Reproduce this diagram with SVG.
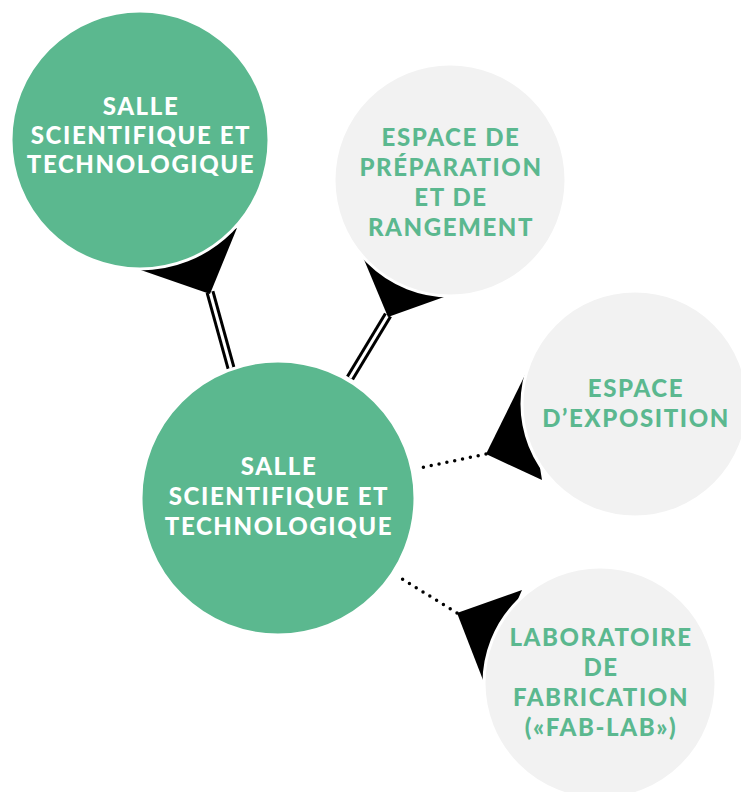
<svg xmlns="http://www.w3.org/2000/svg" width="741" height="792" viewBox="0 0 741 792">
<style>
.green{fill:#5BB88F;stroke:#fff;stroke-width:3}
.gray{fill:#F2F2F2;stroke:#fff;stroke-width:3}
.wedge{fill:#000}
.t{font-family:Lato,"Liberation Sans",sans-serif;font-weight:900;font-size:24px;letter-spacing:1.6px;text-anchor:middle}
.tw{fill:#fff}
.tg{fill:#5BB88F}
.dbl{stroke:#000;stroke-width:9;fill:none}
.dblin{stroke:#fff;stroke-width:3;fill:none}
.dot{stroke:#000;stroke-width:3.5;stroke-linecap:round;stroke-dasharray:0 8;fill:none}
</style>
<g id="connectors">
<line class="dbl" x1="210" y1="292" x2="231" y2="368"/>
<line class="dblin" x1="210" y1="292" x2="231" y2="368"/>
<line class="dbl" x1="388" y1="315" x2="350" y2="378"/>
<line class="dblin" x1="388" y1="315" x2="350" y2="378"/>
<path class="dot" d="M486 454 L420 468"/>
<path class="dot" d="M457 613 L399 577"/>
<polygon class="wedge" points="210,294 135,268 237,228"/>
<polygon class="wedge" points="388,317 355,238 472,287"/>
<polygon class="wedge" points="486,454 525,375 542,480"/>
<polygon class="wedge" points="457,613 522,590 483,680"/>
</g>
<g id="node-salle-top">
<circle class="green" cx="140" cy="140" r="129"/>
<text class="t tw" x="141" y="115">SALLE</text>
<text class="t tw" x="141" y="144">SCIENTIFIQUE ET</text>
<text class="t tw" x="141" y="173">TECHNOLOGIQUE</text>
</g>
<g id="node-salle-center">
<circle class="green" cx="278" cy="498" r="137"/>
<text class="t tw" x="279" y="475">SALLE</text>
<text class="t tw" x="279" y="505">SCIENTIFIQUE ET</text>
<text class="t tw" x="279" y="535">TECHNOLOGIQUE</text>
</g>
<g id="node-preparation">
<circle class="gray" cx="450" cy="180" r="116"/>
<text class="t tg" x="451" y="146">ESPACE DE</text>
<text class="t tg" x="451" y="176">PRÉPARATION</text>
<text class="t tg" x="451" y="206">ET DE</text>
<text class="t tg" x="451" y="236">RANGEMENT</text>
</g>
<g id="node-exposition">
<circle class="gray" cx="635" cy="404" r="113"/>
<text class="t tg" x="636" y="397">ESPACE</text>
<text class="t tg" x="636" y="427">D’EXPOSITION</text>
</g>
<g id="node-fablab">
<circle class="gray" cx="600" cy="683" r="116"/>
<text class="t tg" x="601" y="646">LABORATOIRE</text>
<text class="t tg" x="601" y="676">DE</text>
<text class="t tg" x="601" y="706">FABRICATION</text>
<text class="t tg" x="601" y="736">(«FAB-LAB»)</text>
</g>
</svg>
